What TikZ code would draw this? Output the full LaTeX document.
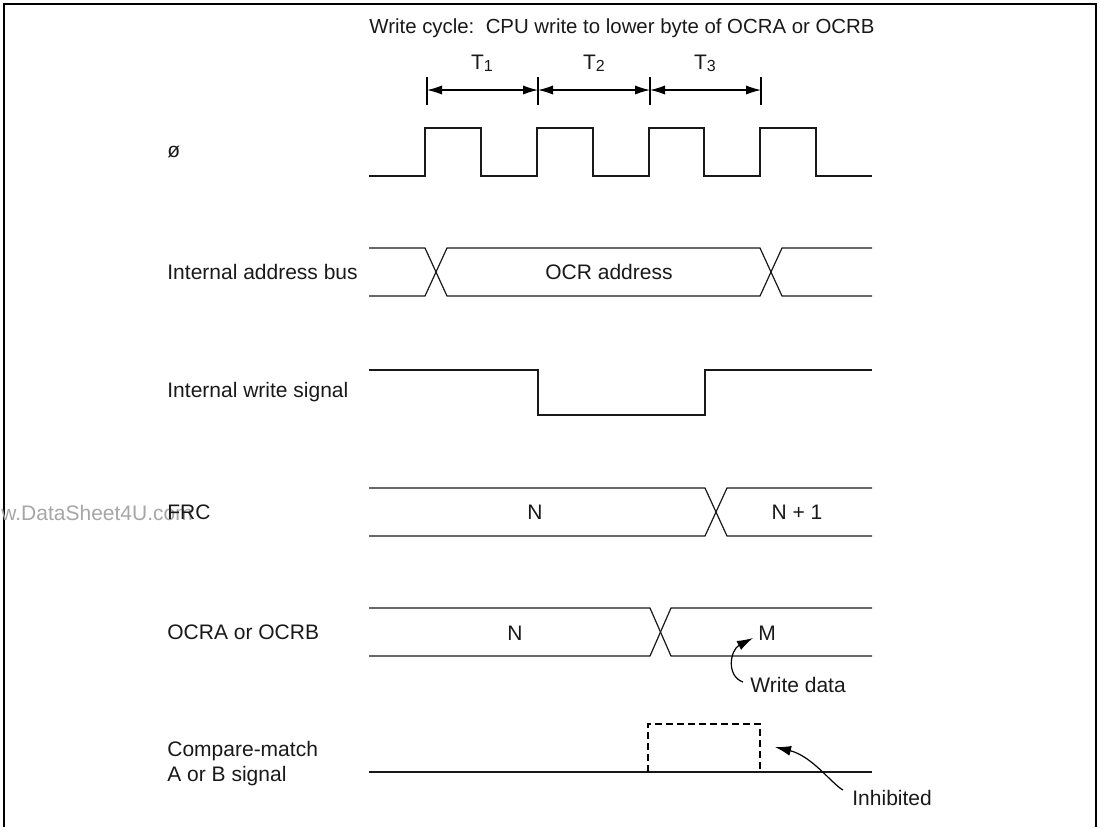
\documentclass[tikz,border=0pt]{standalone}
\usepackage{fontspec}
\setmainfont{Liberation Sans}
\usetikzlibrary{arrows.meta}
\begin{document}
\begin{tikzpicture}[x=0.5pt,y=-0.5pt,
  wave/.style={line width=0.6pt,color=black!90,line join=miter},
  lbl/.style={inner sep=0pt,font=\fontsize{10.5}{12.5}\selectfont,text=black!90},
  sig/.style={lbl,anchor=west,align=left},
  tickln/.style={line width=0.6pt},
  dimarr/.style={line width=0.6pt,{Latex[length=7.5pt,width=4.6pt]}-{Latex[length=7.5pt,width=4.6pt]}},
  callout/.style={line width=0.6pt,-{Latex[length=8pt,width=5pt]}},
  dashbox/.style={line width=0.6pt,dash pattern=on 3.5pt off 2pt},
  frame/.style={line width=1pt},
  wm/.style={inner sep=0pt,font=\fontsize{10.5}{12.5}\selectfont,text=black!35,anchor=west}]
\useasboundingbox (0,0) rectangle (1100,827);
\draw[frame] (4,827) -- (4,4) -- (1096,4) -- (1096,827);

% title and cycle markers
\node[lbl,font=\fontsize{10.2}{12}\selectfont] (title) at (622,28) {Write cycle:\ \ CPU write to lower byte of OCRA or OCRB};
\newcommand{\subd}[1]{{\fontsize{8}{8}\selectfont\raisebox{-0.25ex}{#1}}}
\node[lbl] (t1) at (482,63) {T\subd{1}};
\node[lbl] (t2) at (594,63) {T\subd{2}};
\node[lbl] (t3) at (705,63) {T\subd{3}};
\coordinate (k0) at (427,90);
\coordinate (k1) at (538,90);
\coordinate (k2) at (650,90);
\coordinate (k3) at (761,90);
\foreach \c in {k0,k1,k2,k3} \draw[tickln] ([yshift=6.5pt]\c) -- ([yshift=-7.5pt]\c);
\draw[dimarr] (k0) -- (k1);
\draw[dimarr] (k1) -- (k2);
\draw[dimarr] (k2) -- (k3);

% signal labels
\node[sig] (lphi) at (167,152) {ø};
\node[sig] (ladr) at (167,272) {Internal address bus};
\node[sig] (lwr) at (167,392) {Internal write signal};
\node[wm] (wmark) at (1,513) {w.DataSheet4U.com};
\node[sig] (lfrc) at (167,512) {FRC};
\node[sig] (locr) at (167,632) {OCRA or OCRB};
\node[sig] (lcmp) at (167,764) {Compare-match\\A or B signal};

% clock
\draw[wave] (369,176) -- (425,176) -- (425,128) -- (481,128) -- (481,176)
  -- (537,176) -- (537,128) -- (593,128) -- (593,176)
  -- (649,176) -- (649,128) -- (704,128) -- (704,176)
  -- (760,176) -- (760,128) -- (816,128) -- (816,176) -- (872,176);

% internal address bus
\draw[wave] (369,248) -- (425,248) -- (447,296) -- (760,296) -- (782,248) -- (872,248);
\draw[wave] (369,296) -- (425,296) -- (447,248) -- (760,248) -- (782,296) -- (872,296);
\node[lbl] (ocradr) at (609,272) {OCR address};

% internal write signal
\draw[wave] (369,370) -- (538,370) -- (538,415) -- (705,415) -- (705,370) -- (872,370);

% FRC
\draw[wave] (369,488) -- (705,488) -- (727,536) -- (872,536);
\draw[wave] (369,536) -- (705,536) -- (727,488) -- (872,488);
\node[lbl] (frcn) at (535,512) {N};
\node[lbl] (frcn1) at (797,512) {N + 1};

% OCRA / OCRB
\draw[wave] (369,608) -- (650,608) -- (671,656) -- (872,656);
\draw[wave] (369,656) -- (650,656) -- (671,608) -- (872,608);
\node[lbl] (ocrn) at (515,633) {N};
\node[lbl] (ocrm) at (767,633) {M};
\node[lbl,anchor=west] (wd) at (750,685) {Write data};
\coordinate (mtip) at (753,638);
\draw[callout] ([xshift=-3.5pt,yshift=1.5pt]wd.west) .. controls (726,676) and (730,650) .. (mtip);

% compare-match
\draw[wave] (369,772) -- (872,772);
\draw[dashbox] (648,772) -- (648,724) -- (760,724) -- (760,772);
\node[lbl,anchor=west] (inh) at (852,798) {Inhibited};
\coordinate (itip) at (775,747);
\draw[callout] ([xshift=-4.5pt,yshift=4pt]inh.west) .. controls (832,784) and (812,756) .. (itip);
\end{tikzpicture}
\end{document}
